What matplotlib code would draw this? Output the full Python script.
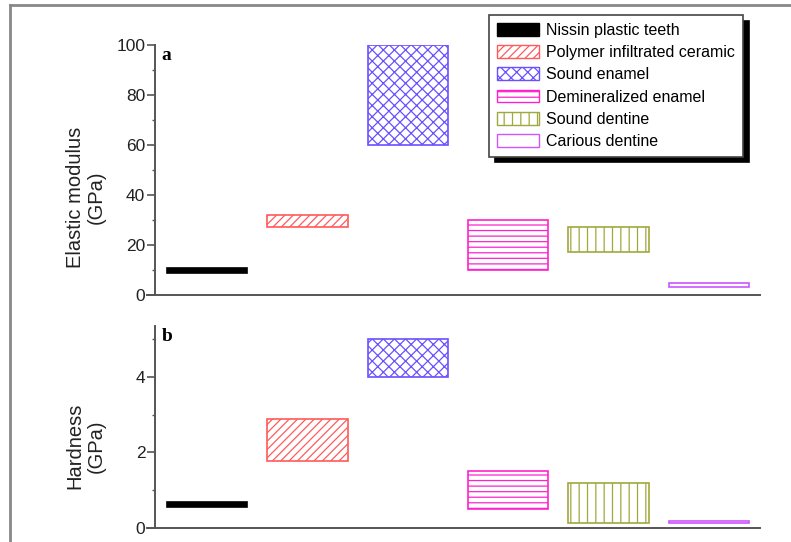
import numpy as np
import matplotlib.pyplot as plt
from matplotlib.patches import Patch
from matplotlib.lines import Line2D
from matplotlib.ticker import MultipleLocator

plt.rcParams['font.family'] = ['Liberation Sans', 'DejaVu Sans']
plt.rcParams['hatch.linewidth'] = 0.9

# materials and their ranges (low, high)
materials = ['Nissin plastic teeth', 'Polymer infiltrated ceramic', 'Sound enamel',
             'Demineralized enamel', 'Sound dentine', 'Carious dentine']
modulus_low = [8.8, 27, 60, 10, 17, 3.3]
modulus_high = [10.6, 32, 100, 30, 27, 5.0]
hardness_low = [0.56, 1.78, 4.0, 0.5, 0.14, 0.12]
hardness_high = [0.69, 2.9, 5.0, 1.5, 1.2, 0.18]

colors = ['black', '#ff5a5a', '#6a50ff', '#ff22cc', '#a0a83c', '#cc55ff']
hatches = [None, '////', 'xxx', '---', '||', None]
faces = ['black', 'none', 'none', 'none', 'none', 'none']

fig = plt.figure(figsize=(7.91, 5.42), dpi=100)
ax1 = fig.add_axes([147/791, 1-295/542, 613/791, 250/542])
ax2 = fig.add_axes([147/791, 1-528/542, 613/791, 202/542])

x = np.arange(len(materials))


def draw(ax, low, high):
    low = np.array(low)
    high = np.array(high)
    for i in range(len(materials)):
        ax.bar(x[i], high[i]-low[i], bottom=low[i], width=0.8,
               facecolor=faces[i], edgecolor=colors[i], hatch=hatches[i],
               linewidth=1.2)
    ax.set_xlim(-0.598, 5.508)
    for s in ['top', 'right']:
        ax.spines[s].set_visible(False)
    ax.spines['left'].set_position(('data', -0.518))
    for s in ['left', 'bottom']:
        ax.spines[s].set_color('#555555')
        ax.spines[s].set_linewidth(1.4)
    ax.set_xticks([])
    ax.tick_params(axis='y', which='major', length=5.5, width=1.2, color='#555555',
                   labelsize=12.5, pad=1.5, labelcolor='#222222')
    ax.tick_params(axis='y', which='minor', length=2.5, width=1.0, color='#555555')


draw(ax1, modulus_low, modulus_high)
ax1.set_ylim(0, 100)
ax1.yaxis.set_major_locator(MultipleLocator(20))
ax1.yaxis.set_minor_locator(MultipleLocator(10))
ax1.set_ylabel('Elastic modulus\n(GPa)', fontsize=14.5, color='#222222', linespacing=1.1)
ax1.yaxis.set_label_coords(-0.068, 0.392)
ax1.text(-0.45, 99, 'a', fontsize=14, fontweight='bold', family='Liberation Serif',
         va='top', ha='left')

draw(ax2, hardness_low, hardness_high)
ax2.set_ylim(0, 5.35)
ax2.yaxis.set_major_locator(MultipleLocator(2))
ax2.yaxis.set_minor_locator(MultipleLocator(1))
ax2.set_ylabel('Hardness\n(GPa)', fontsize=14.5, color='#222222', linespacing=1.1)
ax2.yaxis.set_label_coords(-0.068, 0.406)
ax2.text(-0.45, 5.3, 'b', fontsize=14, fontweight='bold', family='Liberation Serif',
         va='top', ha='left')

# legend
handles = [Patch(facecolor=faces[i], edgecolor=colors[i], hatch=hatches[i], linewidth=1.0)
           for i in range(len(materials))]
leg = fig.legend(handles, materials, loc='upper left',
                 bbox_to_anchor=(489/791, 1-15/542), fontsize=11.5,
                 handlelength=2.6, handleheight=0.85, labelspacing=0.45,
                 handletextpad=0.5, borderpad=0.5, borderaxespad=0, fancybox=False,
                 shadow={'color': 'black', 'alpha': 1, 'ox': 4, 'oy': -4},
                 framealpha=1, edgecolor='#444444')
leg.get_frame().set_linewidth(1.2)

# outer frame of the original figure
fig.add_artist(Line2D([10/791, 1], [1-5/542, 1-5/542], color='#888888', lw=2))
fig.add_artist(Line2D([10/791, 10/791], [0, 1-5/542], color='#888888', lw=2))

fig.savefig('out.png', dpi=100)
